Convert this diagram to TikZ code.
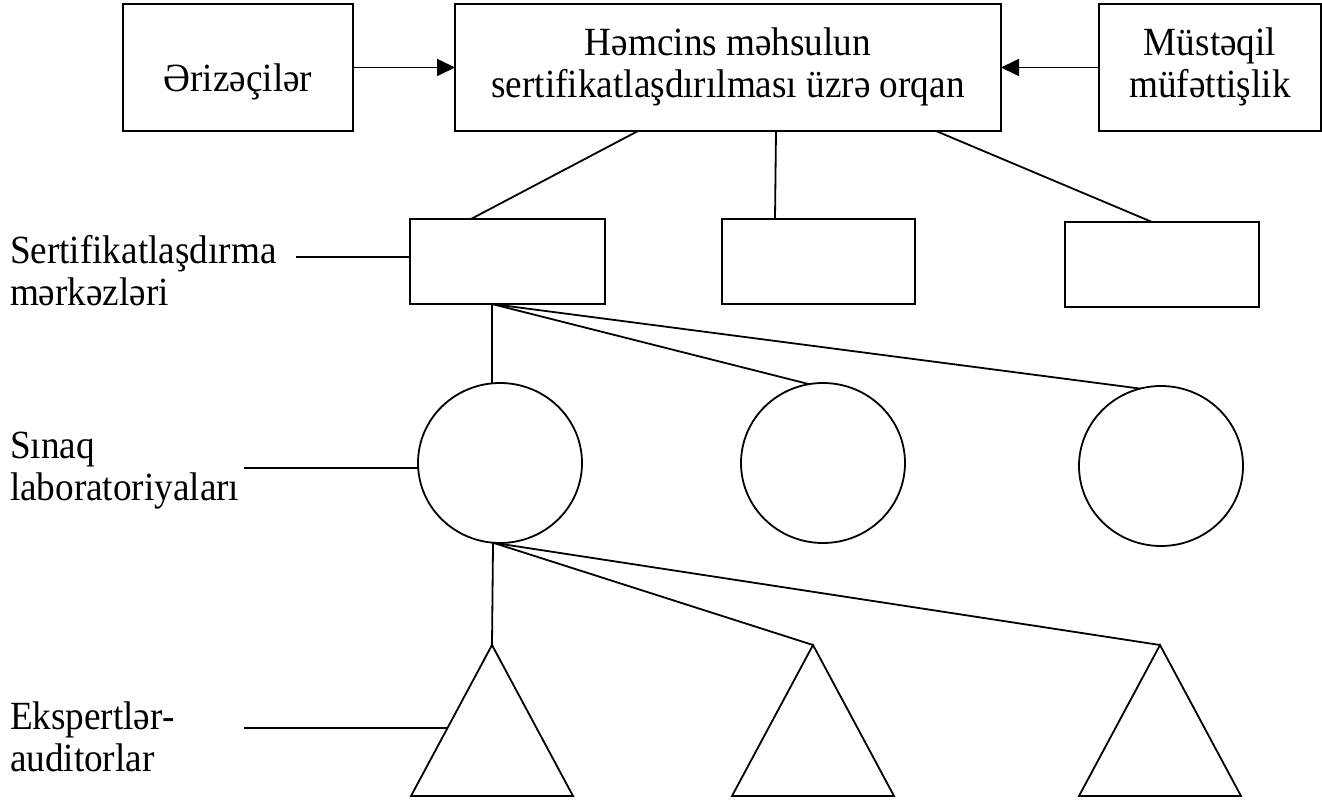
\documentclass[tikz,border=0pt]{standalone}
\usepackage{fontspec}
\setmainfont{Liberation Serif}[FakeStretch=0.93]
\usetikzlibrary{arrows.meta,shapes.geometric,calc}
\begin{document}
\begin{tikzpicture}[x=1pt,y=-1pt,
  every node/.style={inner sep=0pt, outer sep=0pt},
  txt/.style={font=\fontsize{40}{42}\selectfont},
  boxnode/.style={draw, line width=1.8pt, rectangle, align=center, txt},
  unit/.style={draw, line width=1.8pt, rectangle, minimum width=194pt, minimum height=85pt},
  lab/.style={txt, align=left, anchor=north west},
  oval/.style={draw, line width=1.8pt, ellipse, minimum width=164pt, minimum height=160pt},
  conn/.style={line width=1.8pt},
  arr/.style={line width=1.8pt, -{Triangle[length=18pt,width=17pt]}}]
\path[use as bounding box, fill=white] (0,0) rectangle (1322,800);

% top row
\node[boxnode, minimum width=230pt, minimum height=127pt] (ariz) at (238,67.5) {\rule{0pt}{57pt}Ərizəçilər};
\node[boxnode, minimum width=546pt, minimum height=127pt] (main) at (728,67.5) {Həmcins məhsulun\\sertifikatlaşdırılması üzrə orqan\rule[-9pt]{0pt}{1pt}};
\node[boxnode, minimum width=222pt, minimum height=127pt] (must) at (1210,67.5) {Müstəqil\\müfəttişlik\rule[-9pt]{0pt}{1pt}};

\draw[arr] (ariz.east) -- (main.west);
\draw[arr] (must.west) -- (main.east);

% certification centres
\node[unit, minimum width=195pt] (c1) at (507.5,261.5) {};
\node[unit, minimum width=193pt] (c2) at (818.5,261.5) {};
\node[unit] (c3) at (1162,264.5) {};

\draw[conn] ([xshift=183pt]main.south west) -- ([xshift=61pt]c1.north west);
\draw[conn] ([xshift=321pt]main.south west) -- ([xshift=53pt]c2.north west);
\draw[conn] ([xshift=481pt]main.south west) -- ([xshift=87pt]c3.north west);

% laboratories
\node[oval] (l1) at (500,463) {};
\node[oval] (l2) at (823,463) {};
\node[oval] (l3) at (1161,466) {};

\coordinate (cb) at ([xshift=82pt]c1.south west);
\draw[conn] (cb) -- (cb |- l1.north);
\draw[conn] (cb) -- (l2.100);
\draw[conn] (cb) -- (l3.105);

% experts (triangles)
\coordinate (t1) at (492,645);
\coordinate (t2) at (813,645);
\coordinate (t3) at (1160,645);
\coordinate (t1b) at (411,796);
\draw[conn, line join=miter] (t1) -- (t1b) -- ++(162,0) -- cycle;
\draw[conn, line join=miter] (t2) -- ++(-81,151) -- ++(162,0) -- cycle;
\draw[conn, line join=miter] (t3) -- ++(-81,151) -- ++(162,0) -- cycle;

\coordinate (lb) at (l1.265);
\draw[conn] (lb) -- (t1);
\draw[conn] (lb) -- (t2);
\draw[conn] (lb) -- (t3);

% side labels
\node[lab] (lsc) at (10,233) {\rule{0pt}{30pt}Sertifikatlaşdırma\\mərkəzləri};
\node[lab] (lsl) at (10,428) {\rule{0pt}{30pt}Sınaq\\laboratoriyaları};
\node[lab] (lea) at (10,699) {\rule{0pt}{30pt}Ekspertlər-\\auditorlar};

\coordinate (s1) at (296,257);
\draw[conn] (s1) -- (s1 -| c1.west);
\coordinate (s2) at (244,468);
\draw[conn] (s2) -- (s2 -| l1.west);
\coordinate (s3) at (244,728);
\draw[conn] (s3) -- ($(t1)!0.55!(t1b)$);
\end{tikzpicture}
\end{document}
